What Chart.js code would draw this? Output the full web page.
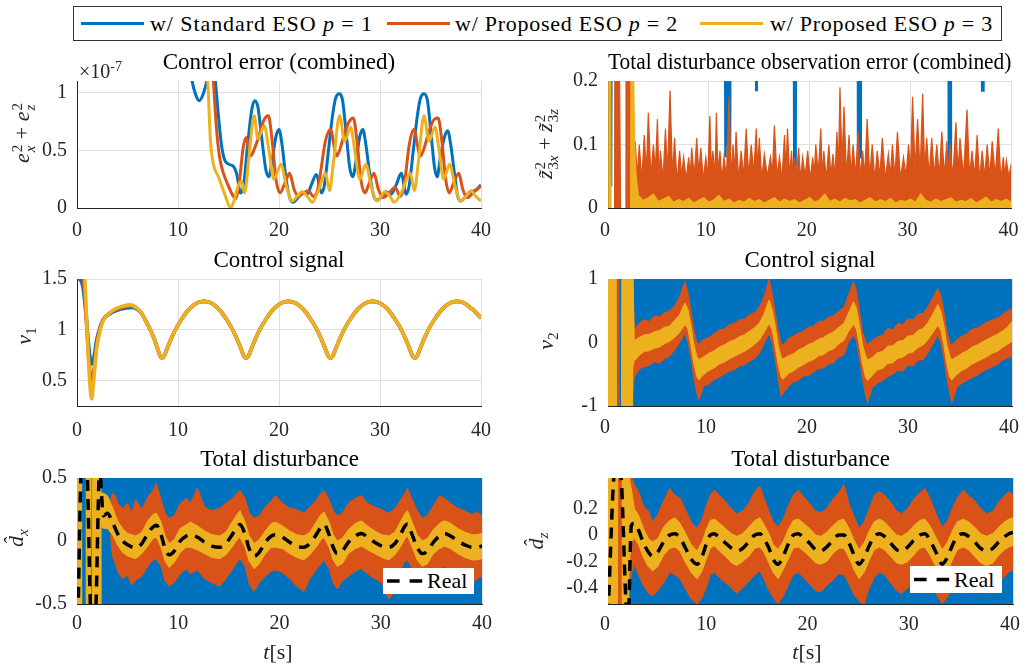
<!DOCTYPE html>
<html><head><meta charset="utf-8">
<script src="https://cdn.jsdelivr.net/npm/chart.js@4.4.1/dist/chart.umd.min.js"></script>
<style>
html,body{margin:0;padding:0;background:#fff;font-family:'Liberation Serif','Times New Roman',Times,serif;}
#fig{position:relative;width:1032px;height:664px;overflow:hidden;background:#fff;font-family:'Liberation Serif','Times New Roman',Times,serif;color:#000;}
canvas{position:absolute;}
.ov{position:absolute;white-space:nowrap;line-height:1;z-index:5;}
.ylab{transform:translate(-50%,-50%) rotate(-90deg);font-size:22px;color:#262626;}
.xlab{transform:translate(-50%,-50%);font-size:22px;color:#262626;}
.ss{display:inline-flex;flex-direction:column;font-size:0.68em;line-height:0.9;vertical-align:0.5em;margin-left:1px;}
.sb{font-size:0.7em;vertical-align:-0.3em;}
#legend{position:absolute;left:73px;top:6px;width:927px;height:33px;border:1px solid #333;background:#fff;z-index:5;}
#legend .sw{position:absolute;top:15px;width:63px;height:3px;}
#legend .lt{position:absolute;top:0;line-height:34px;font-size:22px;white-space:nowrap;color:#000;}
.rl{position:absolute;background:#fff;z-index:6;}
.rl svg{position:absolute;left:0;top:0;}
.rl span{position:absolute;left:44px;top:0;font-size:22px;white-space:nowrap;}
</style>
</head><body>
<div id="fig">
  <div id="legend">
    <div class="sw" style="left:7px;background:#0072BD"></div><span class="lt" style="left:76px">w/ Standard ESO <i>p</i> = 1</span>
    <div class="sw" style="left:313px;background:#D95319"></div><span class="lt" style="left:381px">w/ Proposed ESO <i>p</i> = 2</span>
    <div class="sw" style="left:626px;background:#EDB120"></div><span class="lt" style="left:696px">w/ Proposed ESO <i>p</i> = 3</span>
  </div>
  <div class="ov" style="left:79px;top:60px;font-size:20px;color:#262626">×10<span style="font-size:14px;vertical-align:7px">-7</span></div>
  <div class="ov ylab" style="left:24px;top:133px"><i>e</i><span class="ss"><span>2</span><span><i>x</i></span></span> + <i>e</i><span class="ss"><span>2</span><span><i>z</i></span></span></div>
  <div class="ov ylab" style="left:547px;top:144px"><i>z&#771;</i><span class="ss"><span>2</span><span>3<i>x</i></span></span> + <i>z&#771;</i><span class="ss"><span>2</span><span>3<i>z</i></span></span></div>
  <div class="ov ylab" style="left:26px;top:336px"><i>v</i><span class="sb">1</span></div>
  <div class="ov ylab" style="left:548px;top:341px"><i>v</i><span class="sb">2</span></div>
  <div class="ov ylab" style="left:18px;top:538px"><i>d&#770;</i><span class="sb"><i>x</i></span></div>
  <div class="ov ylab" style="left:538px;top:541px"><i>d&#770;</i><span class="sb"><i>z</i></span></div>
  <div class="ov xlab" style="left:278px;top:652px"><i>t</i>[s]</div>
  <div class="ov xlab" style="left:807px;top:652px"><i>t</i>[s]</div>
  <div class="rl" style="left:383px;top:568px;width:91px;height:26px">
    <svg width="44" height="26"><line x1="4" y1="13" x2="40" y2="13" stroke="#000" stroke-width="3.5" stroke-dasharray="12.6 10"/></svg>
    <span style="line-height:26px">Real</span></div>
  <div class="rl" style="left:910px;top:566px;width:92px;height:27px">
    <svg width="44" height="27"><line x1="4" y1="13.5" x2="40" y2="13.5" stroke="#000" stroke-width="3.5" stroke-dasharray="12.6 10"/></svg>
    <span style="line-height:27px">Real</span></div>
</div>
<script>
// ---------------- DATA ----------------
const xTicks = [0, 10, 20, 30, 40];
const errTicks = [0, 0.5, 1];
const obsTicks = [0, 0.1, 0.2];
const v1Ticks = [0.5, 1, 1.5];
const v2Ticks = [-1, 0, 1];
const dxTicks = [-0.5, 0, 0.5];
const dzTicks = [-0.4, -0.2, 0, 0.2];

// Control error (x1e-7): [t, value]
const errBlue = [[0,40],[6,12],[10,2.5],[11.0,1.4],[11.4,1.1],[11.8,0.97],[12.1,0.93],[12.5,0.99],[12.9,1.12],[13.2,1.3],[13.45,1.25],[13.7,1.1],[14.0,0.8],[14.3,0.55],[14.6,0.42],[15.0,0.38],[15.5,0.36],[15.8,0.3],[16.2,0.13],[16.5,0.2],[16.9,0.55],[17.3,0.85],[17.6,0.93],[17.9,0.88],[18.3,0.6],[18.7,0.33],[19.0,0.27],[19.3,0.4],[19.7,0.62],[20.0,0.68],[20.3,0.55],[20.7,0.25],[21.1,0.08],[21.4,0.05],[21.8,0.08],[22.3,0.13],[22.8,0.12],[23.2,0.2],[23.7,0.29],[24.2,0.13],[24.5,0.2],[24.9,0.5],[25.3,0.8],[25.6,0.95],[26.0,0.99],[26.3,0.93],[26.7,0.6],[27.0,0.35],[27.3,0.27],[27.7,0.45],[28.0,0.62],[28.3,0.68],[28.6,0.55],[29.0,0.28],[29.4,0.1],[29.7,0.07],[30.1,0.09],[30.6,0.14],[31.1,0.12],[31.6,0.2],[32.1,0.3],[32.6,0.12],[32.9,0.2],[33.3,0.5],[33.7,0.8],[34.0,0.95],[34.35,0.99],[34.7,0.93],[35.1,0.6],[35.4,0.35],[35.65,0.27],[36.0,0.45],[36.4,0.62],[36.7,0.67],[37.0,0.55],[37.4,0.28],[37.7,0.1],[38.0,0.06],[38.4,0.09],[38.9,0.14],[39.4,0.15],[40.0,0.2]];
const errOrange = [[0,40],[8,8],[12,2.2],[13.2,1.4],[13.5,1.1],[13.8,0.7],[14.1,0.45],[14.5,0.3],[14.9,0.21],[15.3,0.13],[15.7,0.08],[16.1,0.25],[16.45,0.52],[16.75,0.61],[17.2,0.45],[17.6,0.52],[18.0,0.62],[18.5,0.76],[18.95,0.8],[19.3,0.6],[19.7,0.25],[20.1,0.13],[20.6,0.22],[21.05,0.3],[21.5,0.16],[21.95,0.1],[22.4,0.13],[22.9,0.15],[23.4,0.1],[23.8,0.15],[24.1,0.3],[24.6,0.58],[25.1,0.68],[25.7,0.45],[26.0,0.5],[26.4,0.62],[26.9,0.74],[27.35,0.78],[27.7,0.6],[28.1,0.25],[28.5,0.13],[28.95,0.22],[29.4,0.3],[29.85,0.16],[30.3,0.09],[30.9,0.13],[31.5,0.18],[32.0,0.1],[32.4,0.2],[32.9,0.55],[33.35,0.68],[34.0,0.45],[34.3,0.5],[34.8,0.65],[35.3,0.76],[35.75,0.78],[36.1,0.6],[36.5,0.25],[36.85,0.13],[37.3,0.22],[37.8,0.3],[38.2,0.16],[38.65,0.09],[39.3,0.14],[40.0,0.19]];
const errYellow = [[0,40],[8,10],[12,2.5],[12.8,1.3],[13.0,1.0],[13.2,0.6],[13.5,0.38],[14.0,0.27],[14.5,0.15],[15.0,0.03],[15.2,0.0],[15.5,0.05],[16.0,0.2],[16.3,0.23],[16.6,0.13],[17.0,0.42],[17.55,0.8],[17.9,0.6],[18.55,0.71],[19.0,0.5],[19.5,0.25],[20.2,0.38],[20.7,0.2],[21.3,0.06],[21.8,0.1],[22.3,0.14],[22.8,0.1],[23.3,0.05],[23.9,0.15],[24.6,0.3],[25.0,0.15],[25.4,0.4],[26.0,0.8],[26.5,0.58],[27.1,0.7],[27.5,0.5],[28.0,0.25],[28.6,0.38],[29.1,0.2],[29.7,0.06],[30.1,0.1],[30.5,0.14],[31.0,0.1],[31.4,0.05],[32.2,0.15],[33.0,0.3],[33.4,0.15],[33.8,0.4],[34.35,0.8],[34.85,0.58],[35.45,0.7],[35.85,0.5],[36.3,0.25],[36.9,0.38],[37.4,0.2],[38.0,0.06],[38.5,0.1],[39.0,0.15],[39.5,0.1],[40.0,0.06]];

// Total disturbance observation error: [t, value]
const obsBlue = [[0.2,0.6],[0.3,0.034],[0.4,0.6],[11.55,0.6],[11.65,0.08],[11.72,0.6],[11.8,0.1],[11.87,0.6],[11.95,0.078],[12.02,0.6],[12.1,0.09],[12.2,0.6],[14.65,0.6],[14.7,0.186],[14.75,0.6],[18.4,0.6],[18.47,0.06],[18.54,0.6],[18.6,0.065],[18.67,0.6],[24.75,0.6],[24.8,0.076],[24.87,0.6],[24.93,0.08],[25.0,0.6],[25.06,0.078],[25.12,0.6],[33.75,0.6],[33.8,0.073],[33.87,0.6],[33.93,0.075],[34.0,0.6],[37.05,0.6],[37.1,0.185],[37.17,0.6],[37.23,0.183],[37.3,0.6],[40,0.6]];
const obsOrange = [[0.65,0],[0.7,0.5],[0.8,0.06],[0.9,0.5],[1.0,0.5],[1.25,0],[1.27,null],[1.78,0],[1.8,0.5],[1.9,0.02],[2.0,0.5],[2.1,0.0],[2.2,0.5],[2.35,0.05],[2.5,0.06],
[2.7,0.105],[2.9,0.05],[3.1,0.1],[3.35,0.045],[3.6,0.115],[3.8,0.055],[4.0,0.15],[4.25,0.05],[4.5,0.1],[4.7,0.06],[4.9,0.14],[5.05,0.05],[5.2,0.09],[5.45,0.045],[5.7,0.125],[5.9,0.055],[6.15,0.185],[6.4,0.05],[6.6,0.11],[6.85,0.04],[7.1,0.09],[7.3,0.05],[7.5,0.08],[7.75,0.045],[8.0,0.08],[8.15,0.05],[8.3,0.095],[8.55,0.05],[8.8,0.11],[9.0,0.055],[9.2,0.095],[9.45,0.045],[9.7,0.08],[9.9,0.05],[10.1,0.145],[10.25,0.06],[10.4,0.09],[10.6,0.05],[10.75,0.15],[10.9,0.055],[11.1,0.09],[11.3,0.045],[11.5,0.08],[11.75,0.05],[12.0,0.175],[12.2,0.05],[12.4,0.1],[12.55,0.055],[12.7,0.12],[12.95,0.045],[13.2,0.09],[13.45,0.05],[13.7,0.125],[13.95,0.05],[14.2,0.1],[14.45,0.055],[14.7,0.125],[14.85,0.06],[15.0,0.11],[15.25,0.045],[15.5,0.085],[15.8,0.05],[16.1,0.08],[16.3,0.055],[16.5,0.13],[16.75,0.05],[17.0,0.08],[17.25,0.045],[17.5,0.115],[17.65,0.06],[17.8,0.125],[18.0,0.05],[18.2,0.09],[18.35,0.045],[18.5,0.08],[18.7,0.05],[18.9,0.095],[19.1,0.045],[19.3,0.08],[19.55,0.05],[19.8,0.09],[20.05,0.045],[20.3,0.08],[20.45,0.05],[20.6,0.1],[20.85,0.055],[21.1,0.125],[21.25,0.05],[21.4,0.09],[21.65,0.045],[21.9,0.1],[22.1,0.05],[22.3,0.085],[22.5,0.05],[22.7,0.12],[22.85,0.06],[23.0,0.19],[23.2,0.07],[23.4,0.16],[23.65,0.05],[23.9,0.115],[24.1,0.05],[24.3,0.1],[24.55,0.05],[24.8,0.12],[25.0,0.05],[25.25,0.09],[25.45,0.05],[25.7,0.14],[25.95,0.05],[26.2,0.1],[26.45,0.045],[26.7,0.09],[26.95,0.05],[27.2,0.11],[27.5,0.045],[27.8,0.085],[28.0,0.05],[28.2,0.1],[28.45,0.05],[28.7,0.12],[29.0,0.045],[29.3,0.08],[29.55,0.05],[29.8,0.1],[30.0,0.06],[30.2,0.175],[30.45,0.06],[30.7,0.14],[30.95,0.055],[31.2,0.18],[31.4,0.06],[31.6,0.11],[31.85,0.05],[32.1,0.11],[32.35,0.05],[32.6,0.1],[32.85,0.05],[33.1,0.12],[33.35,0.05],[33.6,0.105],[33.75,0.055],[33.9,0.1],[34.2,0.05],[34.5,0.135],[34.7,0.055],[34.9,0.11],[35.25,0.05],[35.6,0.155],[35.85,0.05],[36.1,0.09],[36.35,0.05],[36.6,0.115],[36.85,0.045],[37.1,0.09],[37.35,0.05],[37.6,0.1],[37.85,0.05],[38.1,0.105],[38.4,0.05],[38.7,0.125],[38.95,0.045],[39.2,0.08],[39.35,0.05],[39.5,0.075],[39.75,0.05],[40.0,0.07]];
const obsYellowEarly = [[0.0,0],[0.08,0.6],[0.22,0.6],[0.3,0]];
const obsYellow = [[2.25,0],[2.3,0.5],[2.45,0.4],[2.55,0.2],[2.65,0.1],[2.75,0.06],[2.85,0.04],[2.95,0.03],[3.0,0.02],[3.5,0.012],[4.0,0.016],[4.5,0.022],[5.0,0.01],[5.5,0.014],[6.0,0.018],[6.5,0.009],[7.0,0.013],[7.5,0.01],[8.0,0.015],[8.5,0.008],[9.0,0.012],[9.5,0.016],[10.0,0.009],[10.5,0.013],[11.0,0.02],[11.5,0.01],[12.0,0.014],[12.5,0.008],[13.0,0.012],[13.5,0.009],[14.0,0.015],[14.5,0.01],[15.0,0.013],[15.5,0.008],[16.0,0.012],[16.5,0.016],[17.0,0.009],[17.5,0.014],[18.0,0.01],[18.5,0.013],[19.0,0.008],[19.5,0.012],[20.0,0.016],[20.5,0.009],[21.0,0.013],[21.5,0.022],[22.0,0.01],[22.5,0.014],[23.0,0.009],[23.5,0.015],[24.0,0.011],[24.5,0.013],[25.0,0.008],[25.5,0.012],[26.0,0.016],[26.5,0.009],[27.0,0.013],[27.5,0.01],[28.0,0.015],[28.5,0.008],[29.0,0.012],[29.5,0.01],[30.0,0.014],[30.5,0.009],[31.0,0.022],[31.5,0.012],[32.0,0.009],[32.5,0.014],[33.0,0.01],[33.5,0.013],[34.0,0.016],[34.5,0.009],[35.0,0.012],[35.5,0.01],[36.0,0.015],[36.5,0.008],[37.0,0.012],[37.5,0.017],[38.0,0.009],[38.5,0.013],[39.0,0.01],[39.5,0.014],[40.0,0.009]];

// Control signal v1: [t, value]
const v1BlueHead = [[0,1.52],[0.55,1.44],[0.9,1.15],[1.2,0.8],[1.45,0.665],[1.7,0.74],[1.95,0.9],[2.3,1.03],[2.6,1.1],[3.3,1.16],[3.9,1.19],[4.9,1.215],[5.5,1.22],[6.0,1.2]];
const v1OrangeHead = [[0,1.7],[0.6,1.55],[0.95,1.05],[1.2,0.66],[1.45,0.49],[1.7,0.62],[1.95,0.85],[2.3,1.02],[2.6,1.1],[3.3,1.17],[3.9,1.2],[4.9,1.23],[5.4,1.235],[6.0,1.205]];
const v1YellowHead = [[0,2.2],[0.75,1.55],[1.0,1.0],[1.25,0.5],[1.45,0.32],[1.65,0.5],[1.95,0.82],[2.3,1.0],[2.6,1.09],[3.3,1.17],[3.9,1.21],[4.6,1.235],[5.3,1.245],[5.9,1.215]];
const v1Common = [[6.4,1.16],[6.9,1.07],[7.4,0.97],[7.9,0.84],[8.15,0.76],[8.4,0.72],[8.65,0.745],[8.9,0.81],[9.4,0.93],[9.9,1.03],[10.4,1.11],[10.9,1.18],[11.4,1.23],[11.9,1.265],[12.575,1.28],[13.25,1.265],[13.75,1.23],[14.25,1.18],[14.75,1.11],[15.25,1.03],[15.75,0.93],[16.25,0.81],[16.5,0.745],[16.75,0.72],[17.0,0.745],[17.25,0.81],[17.75,0.93],[18.25,1.03],[18.75,1.11],[19.25,1.18],[19.75,1.23],[20.25,1.265],[20.925,1.28],[21.6,1.265],[22.1,1.23],[22.6,1.18],[23.1,1.11],[23.6,1.03],[24.1,0.93],[24.6,0.81],[24.85,0.745],[25.1,0.72],[25.35,0.745],[25.6,0.81],[26.1,0.93],[26.6,1.03],[27.1,1.11],[27.6,1.18],[28.1,1.23],[28.6,1.265],[29.275,1.28],[29.95,1.265],[30.45,1.23],[30.95,1.18],[31.45,1.11],[31.95,1.03],[32.45,0.93],[32.95,0.81],[33.2,0.745],[33.45,0.72],[33.7,0.745],[33.95,0.81],[34.45,0.93],[34.95,1.03],[35.45,1.11],[35.95,1.18],[36.45,1.23],[36.95,1.265],[37.625,1.28],[38.3,1.265],[38.8,1.23],[39.3,1.19],[40.0,1.115]];

// Control signal v2: bands [t, upper, lower], lines [t, value]
const v2BlueEnv = [[0,5,-5],[10,5.5,-5.5],[20,5,-5],[30,5.5,-5.5],[40,5,-5]];
const v2YellowEarly = [[0,-3],[0.08,3],[0.16,-3],[0.24,3],[0.32,-3],[0.4,3],[0.48,-3],[0.56,3],[0.64,-3],[0.72,3],[0.8,-3],[0.82,null],[1.38,-3],[1.46,3],[1.54,-3],[1.62,3],[1.7,-3],[1.78,3],[1.86,-3],[1.94,3],[2.02,-3],[2.1,3],[2.18,-3],[2.26,3],[2.34,-3],[2.42,3]];
const v2OrangeEarly = [[0.85,-3],[0.9,3],[1.05,3],[1.1,-3]];
const v2Yellow = [[2.45,1.2,-0.4],[2.6,0.03,-0.29],[3.1,0.08,-0.2],[3.6,0.12,-0.14],[4.1,0.13,-0.13],[4.6,0.17,-0.09],[5.1,0.19,-0.07],[5.6,0.24,-0.02],[6.1,0.26,0.02],[6.6,0.35,0.08],[7.1,0.44,0.16],[7.6,0.62,0.28],
[7.9,0.53,0.22],[8.2,0.28,-0.03],[8.5,-0.03,-0.33],[8.8,-0.22,-0.54],[9.0,-0.27,-0.59],[9.5,-0.22,-0.5],[10.0,-0.17,-0.44],[10.5,-0.13,-0.4],[11.0,-0.07,-0.34],[11.5,-0.04,-0.31],[12.0,0.01,-0.26],[12.5,0.04,-0.22],[13.0,0.09,-0.18],[13.5,0.12,-0.14],[14.0,0.18,-0.09],[14.5,0.23,-0.03],[15.0,0.31,0.04],[15.45,0.45,0.16],[15.95,0.67,0.3],
[16.25,0.52,0.2],[16.55,0.27,-0.05],[16.85,-0.05,-0.35],[17.15,-0.23,-0.55],[17.35,-0.26,-0.58],[17.85,-0.21,-0.49],[18.35,-0.18,-0.45],[18.85,-0.12,-0.39],[19.35,-0.08,-0.35],[19.85,-0.03,-0.3],[20.35,0.0,-0.27],[20.85,0.05,-0.21],[21.35,0.08,-0.19],[21.85,0.13,-0.13],[22.35,0.17,-0.1],[22.85,0.24,-0.02],[23.35,0.3,0.03],[23.8,0.46,0.17],[24.3,0.64,0.29],
[24.6,0.54,0.21],[24.9,0.26,-0.04],[25.2,-0.04,-0.34],[25.5,-0.21,-0.55],[25.7,-0.28,-0.6],[26.2,-0.23,-0.51],[26.7,-0.16,-0.43],[27.2,-0.14,-0.41],[27.7,-0.06,-0.33],[28.2,-0.05,-0.32],[28.7,0.02,-0.25],[29.2,0.03,-0.23],[29.7,0.1,-0.17],[30.2,0.11,-0.15],[30.7,0.19,-0.08],[31.2,0.22,-0.04],[31.7,0.32,0.05],[32.15,0.44,0.15],[32.65,0.6,0.27],
[32.95,0.5,0.2],[33.25,0.27,-0.04],[33.55,-0.04,-0.34],[33.85,-0.22,-0.55],[34.05,-0.27,-0.59],[34.55,-0.22,-0.5],[35.05,-0.17,-0.44],[35.55,-0.13,-0.4],[36.05,-0.07,-0.34],[36.55,-0.04,-0.3],[37.05,0.01,-0.26],[37.55,0.05,-0.22],[38.05,0.09,-0.17],[38.55,0.13,-0.14],[39.05,0.18,-0.08],[39.55,0.24,-0.03],[40.0,0.33,0.02]];
const v2Orange = [[2.45,1.2,-0.8],[2.6,0.2,-0.55],[3.1,0.3,-0.42],[3.6,0.36,-0.38],[4.1,0.33,-0.36],[4.6,0.42,-0.3],[5.1,0.4,-0.33],[5.6,0.47,-0.25],[6.1,0.5,-0.22],[6.6,0.58,-0.12],[7.1,0.72,0.0],[7.6,0.96,0.15],
[7.9,0.8,0.02],[8.2,0.5,-0.22],[8.5,0.2,-0.55],[8.8,0.0,-0.8],[9.0,-0.02,-0.9],[9.5,0.05,-0.68],[10.0,0.08,-0.66],[10.5,0.14,-0.58],[11.0,0.2,-0.55],[11.5,0.21,-0.5],[12.0,0.28,-0.45],[12.5,0.3,-0.43],[13.0,0.36,-0.37],[13.5,0.37,-0.36],[14.0,0.44,-0.3],[14.5,0.47,-0.25],[15.0,0.56,-0.17],[15.45,0.72,-0.02],[15.95,1.0,0.14],
[16.25,0.78,0.0],[16.55,0.47,-0.25],[16.85,0.18,-0.58],[17.15,-0.02,-0.85],[17.35,-0.04,-0.8],[17.85,0.06,-0.7],[18.35,0.1,-0.62],[18.85,0.15,-0.6],[19.35,0.18,-0.53],[19.85,0.24,-0.52],[20.35,0.26,-0.47],[20.85,0.33,-0.41],[21.35,0.34,-0.4],[21.85,0.4,-0.34],[22.35,0.42,-0.32],[22.85,0.5,-0.23],[23.35,0.55,-0.2],[23.8,0.74,0.0],[24.3,0.96,0.12],
[24.6,0.82,0.03],[24.9,0.48,-0.24],[25.2,0.16,-0.56],[25.5,0.01,-0.82],[25.7,-0.03,-0.95],[26.2,0.04,-0.7],[26.7,0.09,-0.64],[27.2,0.12,-0.6],[27.7,0.22,-0.54],[28.2,0.2,-0.5],[28.7,0.3,-0.44],[29.2,0.28,-0.45],[29.7,0.37,-0.36],[30.2,0.36,-0.37],[30.7,0.45,-0.28],[31.2,0.46,-0.27],[31.7,0.57,-0.16],[32.15,0.7,-0.03],[32.65,0.85,0.12],
[32.95,0.75,0.0],[33.25,0.48,-0.24],[33.55,0.18,-0.55],[33.85,-0.01,-0.82],[34.05,-0.04,-0.95],[34.55,0.05,-0.7],[35.05,0.1,-0.64],[35.55,0.14,-0.6],[36.05,0.21,-0.55],[36.55,0.22,-0.52],[37.05,0.28,-0.46],[37.55,0.32,-0.42],[38.05,0.36,-0.38],[38.55,0.38,-0.35],[39.05,0.44,-0.28],[39.55,0.5,-0.24],[40.0,0.52,-0.22]];

// Total disturbance d_x
const dxBlueEnv = [[0,4,-4],[10,4.5,-4.5],[20,4,-4],[30,4.5,-4.5],[40,4,-4]];
const dxYellowEarly = [[0,-2],[0.07,2],[0.14,-2],[0.21,2],[0.28,-2],[0.35,2],[0.42,-2],[0.43,null],[0.95,-2],[1.02,2],[1.09,-2],[1.16,2],[1.23,-2],[1.3,2],[1.31,null],[1.5,-2],[1.57,2],[1.64,-2],[1.71,2],[1.78,-2],[1.85,2],[1.92,-2],[1.99,2],[2.06,-2],[2.13,2],[2.2,-2],[2.27,2],[2.34,-2]];
const dxYellow = [[2.35,0.38,0.12],[2.6,0.38,0.1],[3.0,0.36,0.1],[3.5,0.27,0.05],[4.0,0.16,-0.03],[4.5,0.1,-0.09],[5.0,0.06,-0.12],[5.8,0.04,-0.14],[6.4,0.07,-0.1],[7.0,0.16,-0.04],[7.5,0.21,0.02],[7.85,0.22,0.03],[8.3,0.15,-0.05],[8.7,0.04,-0.16],[9.1,-0.02,-0.21],[9.6,0.01,-0.17],[10.2,0.1,-0.09],[10.8,0.13,-0.05],[11.2,0.15,-0.05],[11.9,0.12,-0.07],[12.6,0.08,-0.1],[13.3,0.05,-0.13],[14.1,0.04,-0.14],[14.7,0.07,-0.11],[15.4,0.16,-0.04],[15.8,0.21,0.01],[16.1,0.24,0.03],[16.6,0.15,-0.05],[17.0,0.04,-0.16],[17.5,-0.02,-0.22],[18.0,0.01,-0.18],[18.6,0.08,-0.1],[19.2,0.14,-0.05],[19.6,0.15,-0.05],[20.3,0.12,-0.06],[21.0,0.08,-0.1],[21.7,0.05,-0.13],[22.4,0.04,-0.15],[23.0,0.07,-0.11],[23.7,0.16,-0.04],[24.1,0.21,0.01],[24.4,0.23,0.03],[24.9,0.15,-0.05],[25.3,0.05,-0.15],[25.7,0.0,-0.2],[26.2,0.02,-0.18],[26.8,0.09,-0.1],[27.5,0.14,-0.06],[28.1,0.16,-0.04],[28.7,0.12,-0.07],[29.4,0.08,-0.1],[30.1,0.05,-0.13],[30.8,0.04,-0.15],[31.4,0.07,-0.11],[32.0,0.16,-0.04],[32.4,0.22,0.02],[32.65,0.24,0.04],[33.1,0.15,-0.05],[33.6,0.05,-0.15],[34.1,0.0,-0.2],[34.6,0.02,-0.18],[35.2,0.09,-0.1],[35.8,0.14,-0.06],[36.3,0.16,-0.04],[36.9,0.14,-0.06],[37.6,0.1,-0.1],[38.3,0.07,-0.13],[39.0,0.05,-0.15],[39.5,0.05,-0.15],[40.0,0.06,-0.14]];
const dxOrange = [[3.3,0.32,0.05],[3.5,0.38,-0.12],[3.8,0.36,-0.18],[4.0,0.3,-0.24],[4.5,0.26,-0.3],[5.0,0.3,-0.27],[5.4,0.22,-0.35],[5.8,0.33,-0.31],[6.4,0.25,-0.28],[7.0,0.35,-0.2],[7.5,0.4,-0.15],[7.8,0.46,-0.14],[8.3,0.33,-0.2],[8.7,0.22,-0.32],[9.1,0.18,-0.36],[9.6,0.2,-0.33],[10.2,0.3,-0.26],[10.8,0.34,-0.22],[11.2,0.3,-0.26],[11.9,0.42,-0.23],[12.6,0.27,-0.3],[13.3,0.24,-0.33],[14.1,0.26,-0.36],[14.7,0.3,-0.3],[15.4,0.34,-0.22],[15.8,0.38,-0.17],[16.1,0.4,-0.14],[16.6,0.34,-0.2],[17.0,0.22,-0.34],[17.5,0.18,-0.4],[18.0,0.2,-0.33],[18.6,0.27,-0.28],[19.2,0.32,-0.24],[19.6,0.36,-0.23],[20.3,0.3,-0.25],[21.0,0.26,-0.3],[21.7,0.25,-0.36],[22.4,0.22,-0.4],[23.0,0.27,-0.3],[23.7,0.33,-0.22],[24.1,0.38,-0.18],[24.4,0.4,-0.15],[24.9,0.33,-0.22],[25.3,0.24,-0.33],[25.7,0.2,-0.38],[26.2,0.22,-0.32],[26.8,0.3,-0.28],[27.5,0.34,-0.24],[28.1,0.36,-0.22],[28.7,0.3,-0.26],[29.4,0.27,-0.3],[30.1,0.25,-0.33],[30.8,0.22,-0.46],[31.4,0.26,-0.4],[32.0,0.33,-0.22],[32.4,0.38,-0.16],[32.65,0.42,-0.15],[33.1,0.33,-0.22],[33.6,0.24,-0.32],[34.1,0.18,-0.37],[34.6,0.2,-0.33],[35.2,0.28,-0.27],[35.8,0.36,-0.23],[36.3,0.34,-0.2],[36.9,0.3,-0.23],[37.6,0.26,-0.28],[38.3,0.24,-0.31],[39.0,0.21,-0.34],[39.5,0.23,-0.3],[40.0,0.2,-0.28]];
const dxReal = [[0.1,-0.6],[0.45,0.6],[0.95,0.6],[1.4,-0.6],[1.8,-0.6],[2.25,0.6],[2.4,0.4],[2.6,0.2],[3.0,0.22],[3.5,0.15],[4.0,0.06],[4.5,0.0],[5.0,-0.03],[5.8,-0.055],[6.4,-0.02],[7.0,0.06],[7.5,0.11],[7.85,0.125],[8.3,0.05],[8.7,-0.06],[9.1,-0.11],[9.6,-0.08],[10.2,0.0],[10.8,0.04],[11.2,0.05],[11.9,0.03],[12.6,-0.01],[13.3,-0.04],[14.1,-0.05],[14.7,-0.02],[15.4,0.06],[15.8,0.11],[16.1,0.13],[16.6,0.05],[17.0,-0.06],[17.5,-0.12],[18.0,-0.09],[18.6,-0.01],[19.2,0.04],[19.6,0.05],[20.3,0.03],[21.0,-0.01],[21.7,-0.04],[22.4,-0.05],[23.0,-0.02],[23.7,0.06],[24.1,0.11],[24.4,0.13],[24.9,0.05],[25.3,-0.05],[25.7,-0.1],[26.2,-0.08],[26.8,-0.01],[27.5,0.04],[28.1,0.06],[28.7,0.03],[29.4,-0.01],[30.1,-0.04],[30.8,-0.05],[31.4,-0.02],[32.0,0.06],[32.4,0.12],[32.65,0.135],[33.1,0.05],[33.6,-0.05],[34.1,-0.1],[34.6,-0.08],[35.2,-0.01],[35.8,0.04],[36.3,0.06],[36.9,0.04],[37.6,0.0],[38.3,-0.03],[39.0,-0.05],[39.5,-0.05],[40.0,-0.04]];

// Total disturbance d_z
const dzBlueEnv = [[0,4,-4],[10,4.5,-4.5],[20,4,-4],[30,4.5,-4.5],[40,4,-4]];
const dzYellowEarly = [[0,-2],[0.07,2],[0.14,-2],[0.21,2],[0.28,-2],[0.35,2],[0.42,-2],[0.49,2],[0.56,-2],[0.63,2],[0.7,-2],[0.77,2],[0.84,-2],[0.9,2],[0.91,null],[1.45,-2],[1.52,2],[1.59,-2],[1.66,2],[1.73,-2],[1.8,2],[1.87,-2],[1.94,2],[2.0,-2]];
const dzOrangeEarly = [[0.92,-2],[0.99,2],[1.06,-2],[1.13,2],[1.2,-2],[1.27,2],[1.34,-2],[1.41,2]];
const dzYellow = [[2.05,0.45,-0.25],[2.3,0.35,-0.06],[2.6,0.2,-0.02],[3.0,0.15,-0.07],[3.5,0.05,-0.17],[4.0,-0.03,-0.24],[4.4,-0.05,-0.27],[4.9,-0.03,-0.24],[5.5,0.06,-0.15],[6.1,0.11,-0.1],[6.6,0.13,-0.09],[7.1,0.09,-0.12],[7.6,0.02,-0.2],[8.2,-0.07,-0.28],[8.8,-0.12,-0.33],[9.3,-0.05,-0.27],[9.7,0.04,-0.18],[10.1,0.11,-0.1],[10.5,0.12,-0.08],[11.0,0.09,-0.12],[11.6,0.05,-0.16],[12.2,0.01,-0.21],[12.7,-0.01,-0.23],[13.3,0.01,-0.2],[13.9,0.06,-0.16],[14.5,0.11,-0.1],[15.0,0.13,-0.09],[15.4,0.08,-0.13],[15.9,0.01,-0.21],[16.3,-0.07,-0.28],[16.8,-0.11,-0.33],[17.3,-0.05,-0.26],[17.8,0.04,-0.18],[18.3,0.11,-0.1],[18.8,0.12,-0.09],[19.3,0.09,-0.12],[19.9,0.05,-0.16],[20.5,0.0,-0.21],[21.0,-0.01,-0.22],[21.6,0.02,-0.2],[22.2,0.07,-0.14],[22.8,0.11,-0.1],[23.3,0.12,-0.1],[23.8,0.05,-0.17],[24.3,-0.04,-0.26],[24.8,-0.11,-0.33],[25.3,-0.06,-0.28],[25.8,0.03,-0.19],[26.3,0.1,-0.11],[26.8,0.12,-0.09],[27.3,0.1,-0.11],[27.9,0.05,-0.16],[28.5,0.0,-0.21],[29.0,-0.01,-0.22],[29.6,0.02,-0.2],[30.2,0.07,-0.15],[30.8,0.11,-0.1],[31.3,0.12,-0.09],[31.8,0.07,-0.15],[32.4,-0.02,-0.24],[33.0,-0.11,-0.33],[33.5,-0.06,-0.28],[34.0,0.03,-0.19],[34.5,0.1,-0.11],[35.1,0.12,-0.09],[35.6,0.1,-0.11],[36.2,0.06,-0.16],[36.8,0.01,-0.21],[37.4,-0.01,-0.23],[38.0,0.01,-0.21],[38.6,0.06,-0.15],[39.2,0.1,-0.11],[39.6,0.12,-0.09],[40.0,0.13,-0.08]];
const dzOrange = [[2.05,0.45,-0.45],[2.3,0.45,-0.3],[2.6,0.38,-0.22],[3.0,0.33,-0.3],[3.5,0.22,-0.38],[4.0,0.18,-0.44],[4.4,0.1,-0.46],[4.9,0.15,-0.42],[5.5,0.26,-0.36],[6.1,0.35,-0.28],[6.6,0.3,-0.3],[7.1,0.28,-0.33],[7.6,0.2,-0.4],[8.2,0.1,-0.48],[8.8,0.05,-0.52],[9.3,0.12,-0.47],[9.7,0.22,-0.4],[10.1,0.3,-0.3],[10.5,0.34,-0.28],[11.0,0.3,-0.32],[11.6,0.25,-0.36],[12.2,0.2,-0.4],[12.7,0.16,-0.44],[13.3,0.18,-0.4],[13.9,0.24,-0.35],[14.5,0.33,-0.3],[15.0,0.37,-0.27],[15.4,0.28,-0.33],[15.9,0.18,-0.42],[16.3,0.1,-0.47],[16.8,0.06,-0.52],[17.3,0.12,-0.46],[17.8,0.22,-0.38],[18.3,0.3,-0.3],[18.8,0.34,-0.28],[19.3,0.29,-0.32],[19.9,0.24,-0.37],[20.5,0.18,-0.42],[21.0,0.17,-0.43],[21.6,0.2,-0.38],[22.2,0.27,-0.34],[22.8,0.32,-0.29],[23.3,0.38,-0.3],[23.8,0.24,-0.37],[24.3,0.14,-0.45],[24.8,0.05,-0.5],[25.3,0.1,-0.52],[25.8,0.2,-0.4],[26.3,0.3,-0.32],[26.8,0.33,-0.28],[27.3,0.3,-0.3],[27.9,0.25,-0.36],[28.5,0.18,-0.42],[29.0,0.16,-0.44],[29.6,0.2,-0.4],[30.2,0.27,-0.34],[30.8,0.32,-0.3],[31.3,0.35,-0.28],[31.8,0.28,-0.33],[32.4,0.16,-0.44],[33.0,0.06,-0.52],[33.5,0.1,-0.47],[34.0,0.2,-0.4],[34.5,0.28,-0.32],[35.1,0.34,-0.27],[35.6,0.3,-0.3],[36.2,0.26,-0.35],[36.8,0.2,-0.4],[37.4,0.16,-0.44],[38.0,0.18,-0.42],[38.6,0.25,-0.35],[39.2,0.3,-0.31],[39.6,0.33,-0.28],[40.0,0.3,-0.26]];
const dzReal = [[0.0,-0.6],[0.7,0.5],[1.2,0.5],[1.9,-0.6],[2.0,-0.6],[2.3,0.07],[2.6,0.09],[3.0,0.04],[3.5,-0.06],[4.0,-0.13],[4.4,-0.16],[4.9,-0.13],[5.5,-0.05],[6.1,0.0],[6.6,0.01],[7.1,-0.02],[7.6,-0.09],[8.2,-0.18],[8.8,-0.22],[9.3,-0.16],[9.7,-0.07],[10.1,0.0],[10.5,0.01],[11.0,-0.02],[11.6,-0.06],[12.2,-0.1],[12.7,-0.12],[13.3,-0.1],[13.9,-0.05],[14.5,0.0],[15.0,0.01],[15.4,-0.03],[15.9,-0.1],[16.3,-0.18],[16.8,-0.22],[17.3,-0.16],[17.8,-0.07],[18.3,0.0],[18.8,0.01],[19.3,-0.02],[19.9,-0.06],[20.5,-0.11],[21.0,-0.12],[21.6,-0.09],[22.2,-0.04],[22.8,0.0],[23.3,0.0],[23.8,-0.06],[24.3,-0.15],[24.8,-0.22],[25.3,-0.17],[25.8,-0.08],[26.3,-0.01],[26.8,0.01],[27.3,-0.01],[27.9,-0.06],[28.5,-0.11],[29.0,-0.12],[29.6,-0.09],[30.2,-0.04],[30.8,0.0],[31.3,0.01],[31.8,-0.04],[32.4,-0.13],[33.0,-0.22],[33.5,-0.17],[34.0,-0.08],[34.5,-0.01],[35.1,0.01],[35.6,-0.01],[36.2,-0.05],[36.8,-0.1],[37.4,-0.12],[38.0,-0.1],[38.6,-0.05],[39.2,-0.01],[39.6,0.01],[40.0,0.02]];

// ---------------- STYLE / BUILD ----------------
const C = {blue:'#0072BD', orange:'#D95319', yellow:'#EDB120', black:'#000000'};
const FONT = "'Liberation Serif', 'Times New Roman', Times, serif";
const P = a => a.map(p => ({x:p[0], y:p[1]}));
const UP = a => a.map(p => ({x:p[0], y:p[1]}));
const LO = a => a.map(p => ({x:p[0], y:p[2]}));
function lineDs(data, color, w, order, extra){
  return Object.assign({data, borderColor:color, backgroundColor:color, borderWidth:w, pointRadius:0,
    fill:false, tension:0, order, clip:0}, extra || {});
}
function bandDs(arr, color, order, w){
  return [lineDs(UP(arr), color, w, order, {fill:'+1'}), lineDs(LO(arr), color, w, order)];
}
const SMOOTH = {cubicInterpolationMode:'monotone'};
const REAL = {cubicInterpolationMode:'monotone', borderDash:[11,8]};
const fig = document.getElementById('fig');
const charts = [];

function makePanel(g){
  const left = g.col ? 520 : 0;
  const width = g.col ? 512 : 510;
  const top = g.T - 45;
  const height = (g.B - g.T) + 45 + 40;
  const cv = document.createElement('canvas');
  cv.width = width; cv.height = height;
  cv.style.left = left + 'px'; cv.style.top = top + 'px';
  cv.style.width = width + 'px'; cv.style.height = height + 'px';
  fig.appendChild(cv);
  const tickFont = {family:FONT, size:20, weight:'normal'};
  charts.push(new Chart(cv, {
    type:'line',
    data:{datasets:g.datasets},
    options:{
      responsive:false, animation:false, devicePixelRatio:1, events:[],
      layout:{padding:{left:0, top:0, bottom:0, right:width - (g.R - left)}},
      plugins:{
        legend:{display:false}, tooltip:{enabled:false},
        title:{display:true, text:g.title, fullSize:false, color:'#000',
          font:{family:FONT, size:23, weight:'normal', lineHeight:1.2}, padding:{top:13.2, bottom:4.2}}
      },
      scales:{
        x:{type:'linear', min:0, max:40,
          afterFit:s => { s.height = 40; },
          afterBuildTicks:s => { s.ticks = xTicks.map(v => ({value:v})); },
          ticks:{autoSkip:false, maxRotation:0, padding:g.xPad, labelOffset:g.col ? -3 : 0, color:'#262626', font:tickFont, callback:v => String(v)},
          grid:{color:'#dfdfdf', drawTicks:false, lineWidth:1},
          border:{display:true, color:'#262626', width:1}},
        y:{type:'linear', min:g.yMin, max:g.yMax,
          afterFit:s => { s.width = g.L - left; },
          afterBuildTicks:s => { s.ticks = g.yTicks.map(v => ({value:v})); },
          ticks:{autoSkip:false, padding:10, color:'#262626', font:tickFont, callback:v => String(v)},
          grid:{color:'#dfdfdf', drawTicks:false, lineWidth:1},
          border:{display:true, color:'#262626', width:1}}
      }
    }
  }));
}

function buildAll(){
makePanel({col:0, L:77, T:81, R:481, B:208, xPad:11, yMin:0, yMax:1.1, yTicks:errTicks,
  title:'Control error (combined)',
  datasets:[lineDs(P(errYellow), C.yellow, 3, 1, SMOOTH), lineDs(P(errOrange), C.orange, 3, 2, SMOOTH), lineDs(P(errBlue), C.blue, 3, 3, SMOOTH)]});

makePanel({col:1, L:608, T:81, R:1013, B:208, xPad:10.6, yMin:0, yMax:0.2, yTicks:obsTicks,
  title:'Total disturbance observation error (combined)',
  datasets:[
    lineDs(P(obsYellowEarly), C.yellow, 1.2, 1, {fill:'origin'}),
    lineDs(P(obsYellow), C.yellow, 1.2, 1, {fill:'origin'}),
    lineDs(P(obsOrange), C.orange, 1.2, 2, {fill:'origin'}),
    lineDs(P(obsBlue), C.blue, 2.5, 3)]});

makePanel({col:0, L:77, T:279, R:481, B:406, xPad:12.6, yMin:0.25, yMax:1.5, yTicks:v1Ticks,
  title:'Control signal',
  datasets:[lineDs(P(v1YellowHead.concat(v1Common)), C.yellow, 3.6, 1, SMOOTH),
            lineDs(P(v1OrangeHead.concat(v1Common)), C.orange, 3.6, 2, SMOOTH),
            lineDs(P(v1BlueHead.concat(v1Common)), C.blue, 3.6, 3, SMOOTH)]});

makePanel({col:1, L:608, T:279, R:1013, B:406, xPad:10, yMin:-1, yMax:1, yTicks:v2Ticks,
  title:'Control signal',
  datasets:[lineDs(P(v2YellowEarly), C.yellow, 2.5, 1)]
    .concat(bandDs(v2Yellow, C.yellow, 1, 1))
    .concat([lineDs(P(v2OrangeEarly), C.orange, 1.5, 2)])
    .concat(bandDs(v2Orange, C.orange, 2, 1))
    .concat(bandDs(v2BlueEnv, C.blue, 3, 1))});

makePanel({col:0, L:77, T:478, R:482, B:604, xPad:8, yMin:-0.5, yMax:0.5, yTicks:dxTicks,
  title:'Total disturbance',
  datasets:[lineDs(P(dxReal), C.black, 3.5, 0, REAL), lineDs(P(dxYellowEarly), C.yellow, 2.5, 1)]
    .concat(bandDs(dxYellow, C.yellow, 1, 1))
    .concat(bandDs(dxOrange, C.orange, 2, 1))
    .concat(bandDs(dxBlueEnv, C.blue, 3, 1))});

makePanel({col:1, L:608, T:478, R:1013, B:604, xPad:9, yMin:-0.52, yMax:0.43, yTicks:dzTicks,
  title:'Total disturbance',
  datasets:[lineDs(P(dzReal), C.black, 3.5, 0, REAL), lineDs(P(dzYellowEarly), C.yellow, 2.5, 1)]
    .concat(bandDs(dzYellow, C.yellow, 1, 1))
    .concat([lineDs(P(dzOrangeEarly), C.orange, 2, 2)])
    .concat(bandDs(dzOrange, C.orange, 2, 1))
    .concat(bandDs(dzBlueEnv, C.blue, 3, 1))});
}

function fitLegend(){
  document.querySelectorAll('#legend .lt').forEach(el => {
    el.style.letterSpacing = '0px';
    const w = el.getBoundingClientRect().width;
    const n = el.textContent.length;
    el.style.letterSpacing = ((223 - w) / n).toFixed(2) + 'px';
  });
}
buildAll();
fitLegend();
if (document.fonts && document.fonts.load) {
  Promise.all([document.fonts.load("20px 'Liberation Serif'"), document.fonts.load("italic 22px 'Liberation Serif'")])
    .then(() => { charts.forEach(c => c.update('none')); fitLegend(); });
}
</script>
</body></html>
